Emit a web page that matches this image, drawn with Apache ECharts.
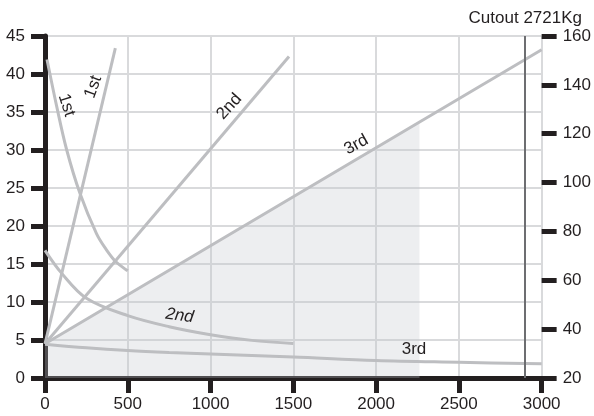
<!DOCTYPE html>
<html><head><meta charset="utf-8">
<script src="https://cdn.jsdelivr.net/npm/echarts@6/dist/echarts.min.js"></script>
<style>html,body{margin:0;padding:0;background:#fff}#c{width:594px;height:416px}</style>
</head><body><div id="c"></div>
<script>
// Data
const firstUp = [[0,4.5],[425,43.4]];
const firstDown = [[12,41.9],[70,35.8],[130,30.1],[211,24.3],[311,19],[370,16.9],[428,15.3],[500,14.1]];
const secondUp = [[0,4.5],[1474,42.3]];
const secondDown = [[0,16.8],[100,13.8],[250,10.5],[500,8.2],[750,6.75],[1000,5.7],[1250,4.95],[1500,4.55]];
const thirdUp = [[0,4.5],[3000,43.2]];
const thirdDown = [[0,4.45],[250,3.98],[500,3.62],[750,3.36],[1000,3.16],[1500,2.76],[2000,2.3],[2500,2.07],[3000,1.87]];
const shadedRange = [[0,4.5],[2262,33.7]];
const cutoutX = 2895;
const titleText = 'Cutout 2721Kg';
const curveLabels = [
  {text:'1st', at:[130,35.9], deg:-72, italic:false},
  {text:'1st', at:[291,38.3], deg:70, italic:false},
  {text:'2nd', at:[1113,35.7], deg:48, italic:false},
  {text:'3rd', at:[1880,30.7], deg:29, italic:false},
  {text:'2nd', at:[813,8.2], deg:-8, italic:true},
  {text:'3rd', at:[2229,3.8], deg:0, italic:false}
];

const FONT = 'Liberation Sans, Arial, Helvetica, sans-serif';
const INK = '#231f20';
const LINE = '#bdbec1';
const GRID = '#d9dadc';

const chart = echarts.init(document.getElementById('c'), null, {renderer:'canvas'});

function curve(data, smooth){
  return {type:'line', data:data, symbol:'none', smooth:smooth||false,
    lineStyle:{color:LINE, width:3}, z:3, silent:true};
}
const plain = function(v){ return String(v); };

chart.setOption({
  animation:false,
  title:{text:titleText, right:7, top:5, textStyle:{fontFamily:FONT, fontSize:17, fontWeight:'normal', color:INK}},
  grid:{left:45, right:50, top:36, bottom:38},
  xAxis:{type:'value', min:0, max:3000, interval:500,
    axisLine:{onZero:false, lineStyle:{color:INK, width:5}},
    axisTick:{length:15, lineStyle:{color:INK, width:5}},
    axisLabel:{margin:18, fontFamily:FONT, fontSize:17, color:INK, formatter:plain},
    splitLine:{show:true, lineStyle:{color:GRID, width:2}}},
  yAxis:[
    {type:'value', min:0, max:45, interval:5, position:'left',
     axisLine:{show:true, onZero:false, lineStyle:{color:INK, width:5}},
     axisTick:{show:true, length:14, lineStyle:{color:INK, width:5}},
     axisLabel:{margin:20, fontFamily:FONT, fontSize:17, color:INK, formatter:plain},
     splitLine:{show:true, lineStyle:{color:GRID, width:2}}},
    {type:'value', min:20, max:160, interval:20, position:'right',
     axisLine:{show:false, onZero:false},
     axisTick:{show:true, length:15, lineStyle:{color:INK, width:5}},
     axisLabel:{margin:21, fontFamily:FONT, fontSize:17, color:INK, formatter:plain},
     splitLine:{show:false}}
  ],
  series:[
    {type:'line', data:shadedRange, symbol:'none', lineStyle:{opacity:0, width:0},
     areaStyle:{color:'rgba(195,198,204,0.42)', origin:'start'}, z:1, silent:true,
     markLine:{silent:true, symbol:'none', label:{show:false},
       lineStyle:{color:'#6d6e71', width:2, type:'solid'}, data:[{xAxis:cutoutX}]}},
    curve(firstUp),
    curve(firstDown, 0.35),
    curve(secondUp),
    curve(secondDown, 0.35),
    curve(thirdUp),
    curve(thirdDown, 0.35)
  ]
});

const gfx = curveLabels.map(function(l){
  const p = chart.convertToPixel({gridIndex:0}, l.at);
  return {type:'text', x:p[0], y:p[1], rotation:l.deg*Math.PI/180, z:10, silent:true,
    style:{text:l.text, x:0, y:0, align:'center', verticalAlign:'middle', fill:INK,
      font:(l.italic?'italic ':'')+'17px '+FONT}};
});
chart.setOption({graphic:gfx});
</script>
</body></html>
